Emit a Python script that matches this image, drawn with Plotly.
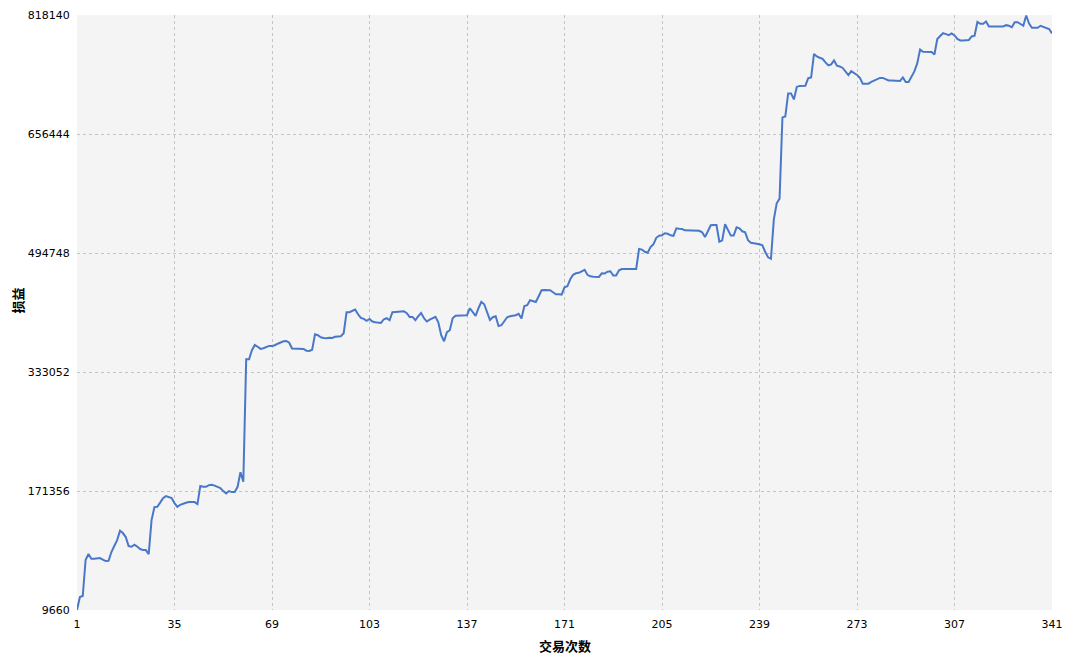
import plotly.graph_objects as go

# Cumulative P&L per trade
pnl = [
    9660, 27310, 28668, 77545, 85691, 79311, 79311, 79311, 80260, 78224,
    76187, 76594, 88407, 96553, 104699, 117318, 114203, 108772, 96553, 95600,
    98318, 95880, 92480, 91122, 91122, 85691, 131853, 149503, 149910, 155613,
    161722, 164437, 163487, 161722, 154934, 149910, 152626, 154526, 155341, 156292,
    156292, 156292, 153576, 178015, 177065, 177065, 179373, 179780, 178694, 176657,
    175300, 171227, 168104, 171227, 169869, 169869, 177065, 196923, 183852, 350443,
    350443, 362662, 369858, 367414, 364427, 365377, 367414, 368500, 368500, 369450,
    371487, 373523, 374881, 375288, 372844, 364970, 364698, 364698, 364698, 364427,
    361983, 361712, 363341, 384385, 383027, 380312, 379361, 378954, 379633, 379361,
    380991, 381669, 381669, 385743, 414254, 414254, 416290, 417920, 411538, 406515,
    405157, 402713, 405157, 401627, 400677, 399998, 399727, 404750, 406108, 403392,
    414254, 414661, 415204, 415612, 415612, 412896, 407873, 407873, 403392, 408823,
    413304, 406108, 401627, 404071, 406108, 408144, 400677, 383027, 374881, 387100,
    389816, 406108, 409502, 409774, 409774, 410181, 410181, 419685, 414254, 409231,
    419685, 428238, 425116, 412896, 403800, 407465, 408823, 395653, 396603, 402034,
    407465, 408823, 409502, 410181, 412217, 405700, 422805, 423755, 430544, 429865,
    428238, 435975, 444121, 444528, 444528, 444121, 441406, 438690, 438690, 438283,
    448195, 449552, 459057, 465166, 467203, 467882, 469918, 471955, 465166, 463130,
    462451, 462451, 462180, 467203, 466795, 469239, 469918, 464080, 464080, 471276,
    473041, 473041, 473041, 473041, 473041, 473041, 500204, 499389, 496402, 495045,
    502920, 506585, 515410, 518126, 518805, 521520, 520841, 518805, 518126, 528309,
    527630, 527358, 525594, 525594, 524915, 525594, 525594, 524915, 522878, 516496,
    524236, 532382, 532789, 532789, 509980, 512017, 533740, 525594, 518397, 518397,
    529667, 528309, 524236, 522878, 512017, 508623, 507536, 507265, 506585, 505228,
    496131, 488935, 486898, 540528, 562244, 568635, 679006, 680363, 711590, 711590,
    703445, 720425, 721783, 722054, 722054, 732238, 733188, 765224, 761836, 760072,
    758442, 753690, 749617, 750975, 756406, 749210, 748260, 746223, 741879, 736448,
    741879, 739435, 736720, 732647, 724772, 724772, 724772, 727216, 729253, 730203,
    732647, 732647, 730610, 729253, 729253, 729253, 729253, 728574, 733324, 727216,
    727216, 733993, 741460, 752321, 771329, 768206, 768206, 768206, 767935, 764541,
    785584, 789658, 793460, 792102, 790744, 793052, 790337, 785584, 783548, 783548,
    784227, 784227, 788979, 789929, 808666, 806222, 806222, 809345, 802557, 802557,
    802557, 803236, 803507, 802557, 804322, 803507, 801471, 808259, 808259, 805544,
    803507, 817492, 806629, 800792, 800792, 800792, 803507, 801877, 801199, 799162,
    793052,
]
trades = list(range(1, len(pnl) + 1))

x_ticks = [1, 35, 69, 103, 137, 171, 205, 239, 273, 307, 341]
y_ticks = [9660, 171356, 333052, 494748, 656444, 818140]
x_title = "交易次数"
y_title = "损益"

fig = go.Figure()
fig.add_trace(go.Scatter(
    x=trades, y=pnl, mode="lines",
    line=dict(color="#4a78c8", width=2),
    hoverinfo="x+y", showlegend=False, cliponaxis=False,
))

tick_font = dict(family="DejaVu Sans, Tahoma, sans-serif", size=11, color="#000000")
grid = dict(showgrid=True, gridcolor="#c4c4c4", griddash="3px,3px", gridwidth=1,
            zeroline=False, showline=False, automargin=False)

fig.update_layout(
    width=1068, height=657,
    margin=dict(l=69, r=24, t=7, b=55, autoexpand=False),
    paper_bgcolor="#ffffff",
    plot_bgcolor="#f4f4f4",
    xaxis=dict(range=[1, 341], tickmode="array", tickvals=x_ticks,
               ticktext=[str(v) for v in x_ticks], tickfont=tick_font,
               ticks="outside", ticklen=4, tickcolor="rgba(0,0,0,0)", **grid),
    yaxis=dict(range=[9660, 818140], tickmode="array", tickvals=y_ticks,
               ticktext=[str(v) for v in y_ticks], tickfont=tick_font,
               ticks="outside", ticklen=4, tickcolor="rgba(0,0,0,0)", **grid),
    annotations=[
        dict(text=f"<b>{x_title}</b>", xref="paper", yref="paper", x=0.5, y=-0.0605,
             xanchor="center", yanchor="middle", showarrow=False,
             font=dict(family="Noto Sans CJK SC", size=13, color="#000000")),
        dict(text=f"<b>{y_title}</b>", xref="paper", yref="paper", x=-0.0605, y=0.52,
             xanchor="center", yanchor="middle", showarrow=False, textangle=-90,
             font=dict(family="Noto Sans CJK SC", size=13, color="#000000")),
    ],
    shapes=[
        dict(type="rect", xref="paper", yref="paper", x0=1.0205, x1=1.03, y0=-0.2, y1=1.1,
             fillcolor="#f0f0f0", line=dict(width=0), layer="below"),
    ],
)

fig.write_html("out.html")
